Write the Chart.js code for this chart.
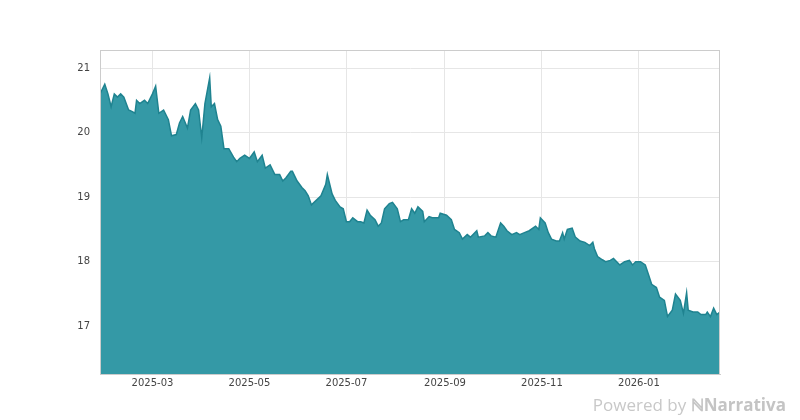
<!DOCTYPE html>
<html><head><meta charset="utf-8">
<script src="https://cdn.jsdelivr.net/npm/chart.js@4"></script>
<style>body{margin:0;background:#fff}#w{position:relative;width:800px;height:420px}
#pb{position:absolute;right:14px;bottom:4px;font:17px "Open Sans",sans-serif;color:#c8c8c8}</style>
</head><body><div id="w"><canvas id="c" width="800" height="420"></canvas><div id="pb">Powered by <b style="color:#c4c4c4">ℕNarrativa</b></div></div>
<script>
const startDate = '2025-01-27';
const days = [0,3,5,7,9,11,13,15,18,20,22,23,25,28,30,33,35,37,40,43,45,48,50,52,55,57,60,62,64,66,69,70,72,74,76,78,81,84,86,88,91,94,97,99,102,104,107,110,113,115,117,120,121,124,127,129,131,133,136,139,142,143,146,148,151,153,155,157,159,162,164,166,168,170,173,175,177,179,182,184,187,189,191,194,196,198,200,203,204,207,209,213,214,218,221,223,226,228,231,233,237,238,242,244,246,249,252,254,256,259,262,264,267,270,274,276,277,280,282,284,287,289,291,292,294,297,299,302,305,308,310,311,313,316,318,321,323,325,327,330,333,335,337,340,343,345,347,350,352,355,357,360,362,365,367,369,370,373,376,378,381,382,384,386,388,390];
const prices = [20.6,20.75,20.6,20.4,20.6,20.55,20.6,20.55,20.35,20.33,20.3,20.5,20.45,20.5,20.45,20.6,20.72,20.3,20.35,20.2,19.95,19.97,20.15,20.25,20.07,20.35,20.45,20.35,19.92,20.45,20.85,20.4,20.45,20.2,20.1,19.75,19.75,19.62,19.55,19.6,19.65,19.6,19.7,19.55,19.65,19.45,19.5,19.35,19.35,19.25,19.3,19.4,19.4,19.25,19.15,19.1,19.02,18.88,18.95,19.02,19.2,19.35,19.05,18.95,18.85,18.82,18.62,18.62,18.68,18.62,18.62,18.6,18.8,18.72,18.65,18.55,18.6,18.82,18.9,18.92,18.82,18.62,18.65,18.65,18.82,18.75,18.85,18.78,18.62,18.7,18.68,18.68,18.75,18.72,18.65,18.5,18.45,18.35,18.42,18.38,18.48,18.38,18.4,18.45,18.4,18.38,18.6,18.55,18.48,18.42,18.45,18.42,18.45,18.48,18.55,18.5,18.68,18.6,18.45,18.35,18.32,18.32,18.45,18.35,18.5,18.52,18.38,18.32,18.3,18.25,18.3,18.2,18.08,18.03,18.0,18.02,18.05,18.0,17.95,18.0,18.02,17.95,18.0,18.0,17.95,17.8,17.65,17.6,17.45,17.4,17.15,17.25,17.5,17.4,17.2,17.52,17.25,17.22,17.22,17.18,17.18,17.22,17.15,17.28,17.18,17.22];
const yTicks = [17,18,19,20,21];
const tickMonths = ['2025-03','2025-05','2025-07','2025-09','2025-11','2026-01'];

const DAY = 86400000;
const t0 = Date.parse(startDate+'T00:00:00Z');
const monthOff = m => Math.round((Date.parse(m+'-01T00:00:00Z')-t0)/DAY);
const data = days.map((d,i)=>({x:d,y:prices[i]}));
new Chart(document.getElementById('c'),{
  type:'line',
  data:{datasets:[{data,borderColor:'#1f8390',borderWidth:1.5,backgroundColor:'#3499a6',fill:'start',pointRadius:0,tension:0}]},
  options:{responsive:false,animation:false,
    layout:{padding:{top:50,right:80,bottom:14,left:0}},
    plugins:{legend:{display:false},tooltip:{enabled:false}},
    scales:{
      x:{type:'linear',min:0,max:390,
        afterFit:s=>{s.height=32;},
        afterBuildTicks:s=>{s.ticks=tickMonths.map(m=>({value:monthOff(m)}));},
        ticks:{autoSkip:false,maxRotation:0,color:'#444',font:{family:'DejaVu Sans',size:10},
          callback:v=>{const i=tickMonths.findIndex(m=>monthOff(m)===v);return i>=0?tickMonths[i]:'';}},
        grid:{color:'#e6e6e6',drawTicks:false},border:{color:'#ccc'}},
      y:{min:16.26,max:21.28,
        afterFit:s=>{s.width=100;},
        afterBuildTicks:s=>{s.ticks=yTicks.map(v=>({value:v}));},
        ticks:{color:'#444',padding:10,font:{family:'DejaVu Sans',size:10}},
        grid:{color:'#e6e6e6',drawTicks:false},border:{color:'#ccc'}}
    }
  },
  plugins:[{id:'frame',afterDraw(c){const a=c.chartArea,x=c.ctx;x.save();x.strokeStyle='#ccc';x.lineWidth=1;x.strokeRect(a.left+0.5,a.top+0.5,a.width-1,a.height);x.restore();}}]
});
</script></body></html>
